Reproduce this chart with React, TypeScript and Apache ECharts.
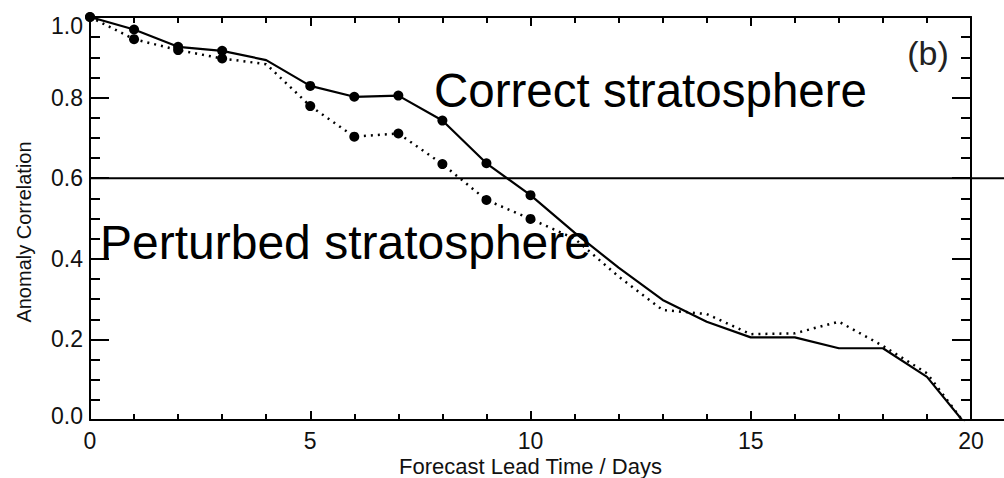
import React, { useEffect, useRef } from "react";
import * as echarts from "echarts";

const days = [0, 1, 2, 3, 4, 5, 6, 7, 8, 9, 10, 11, 12, 13, 14, 15, 16, 17, 18, 19, 20];
const correct = [1.0, 0.969, 0.926, 0.916, 0.893, 0.829, 0.802, 0.805, 0.743, 0.637, 0.558, 0.465, 0.378, 0.298, 0.244, 0.205, 0.205, 0.178, 0.178, 0.107, -0.027];
const perturbed = [1.0, 0.945, 0.918, 0.897, 0.883, 0.779, 0.703, 0.711, 0.635, 0.546, 0.499, 0.45, 0.356, 0.273, 0.263, 0.213, 0.215, 0.244, 0.184, 0.116, -0.029];
const markedDays = [0, 1, 2, 3, 5, 6, 7, 8, 9, 10];
const xTicks = [0, 5, 10, 15, 20];
const yTicks = [0.0, 0.2, 0.4, 0.6, 0.8, 1.0];
const refLine = 0.6;
const xTitle = "Forecast Lead Time / Days";
const yTitle = "Anomaly Correlation";

const FONT = "Liberation Sans";
const INK = "#000";
const L = 90;
const T = 17;
const W_PLOT = 881;
const H_PLOT = 403;

export default function App() {
  const ref = useRef<HTMLDivElement>(null);
  useEffect(() => {
    if (!ref.current) return;
    const chart = echarts.init(ref.current, undefined, { renderer: "svg" });
    const toData = (vals: number[]) =>
      days.map((d, i) => ({
        value: [d, vals[i]],
        symbol: markedDays.includes(d) ? "circle" : "none",
      }));
    const xRange = { type: "value", min: xTicks[0], max: xTicks[xTicks.length - 1], interval: 5, splitLine: { show: false } };
    const yRange = { type: "value", min: yTicks[0], max: yTicks[yTicks.length - 1], interval: 0.2, splitLine: { show: false } };
    const lineOn = { show: true, onZero: false, lineStyle: { color: INK, width: 2 } };
    const noLine = { show: false, onZero: false };
    const xTickStyle = {
      axisTick: { show: true, inside: false, length: 9, lineStyle: { color: INK, width: 2 } },
      minorTick: { show: true, splitNumber: 5, length: 6, lineStyle: { color: INK, width: 2 } },
    };
    const yTickStyle = {
      axisTick: { show: true, inside: false, length: 19, lineStyle: { color: INK, width: 2 } },
      minorTick: { show: true, splitNumber: 4, length: 10, lineStyle: { color: INK, width: 2 } },
    };
    const hidden = { type: "value", min: 0, max: 1, show: false, axisLine: noLine };
    const gridBase = { containLabel: false, outerBoundsMode: "none" };
    chart.setOption({
      animation: false,
      backgroundColor: "#fff",
      grid: [
        { ...gridBase, left: L, top: T, width: W_PLOT, height: H_PLOT },
        { ...gridBase, left: L, top: T + H_PLOT, width: W_PLOT, height: 10 },
        { ...gridBase, left: L, top: T - 10, width: W_PLOT, height: 10 },
        { ...gridBase, left: L - 10, top: T, width: 10, height: H_PLOT },
        { ...gridBase, left: L + W_PLOT, top: T, width: 10, height: H_PLOT },
      ],
      xAxis: [
        {
          ...xRange,
          gridIndex: 0,
          position: "bottom",
          axisLine: lineOn,
          axisTick: { show: false },
          axisLabel: { show: true, margin: 9, fontFamily: FONT, fontSize: 23, lineHeight: 23, color: "#111" },
        },
        { ...xRange, gridIndex: 0, position: "top", axisLine: lineOn, axisTick: { show: false }, axisLabel: { show: false } },
        { ...xRange, gridIndex: 1, position: "top", axisLine: noLine, ...xTickStyle, axisLabel: { show: false } },
        { ...xRange, gridIndex: 2, position: "bottom", axisLine: noLine, ...xTickStyle, axisLabel: { show: false } },
        { ...hidden, gridIndex: 3 },
        { ...hidden, gridIndex: 4 },
      ],
      yAxis: [
        {
          ...yRange,
          gridIndex: 0,
          position: "left",
          axisLine: lineOn,
          axisTick: { show: false },
          axisLabel: {
            show: true,
            margin: 7,
            fontFamily: FONT,
            fontSize: 23,
            color: "#111",
            formatter: (v: number) =>
              v === yTicks[0] ? `{lo|${v.toFixed(1)}}` : v === yTicks[yTicks.length - 1] ? `{hi|${v.toFixed(1)}}` : v.toFixed(1),
            rich: {
              lo: { fontFamily: FONT, fontSize: 23, color: "#111", padding: [0, 0, 8, 0] },
              hi: { fontFamily: FONT, fontSize: 23, color: "#111", padding: [18, 0, 0, 0] },
            },
          },
        },
        { ...yRange, gridIndex: 0, position: "right", axisLine: lineOn, axisTick: { show: false }, axisLabel: { show: false } },
        { ...hidden, gridIndex: 1 },
        { ...hidden, gridIndex: 2 },
        { ...yRange, gridIndex: 3, position: "right", axisLine: noLine, ...yTickStyle, axisLabel: { show: false } },
        { ...yRange, gridIndex: 4, position: "left", axisLine: noLine, ...yTickStyle, axisLabel: { show: false } },
      ],
      series: [
        {
          name: "Correct stratosphere",
          type: "line",
          xAxisIndex: 0,
          yAxisIndex: 0,
          data: toData(correct),
          symbolSize: 10,
          showSymbol: true,
          clip: true,
          itemStyle: { color: INK },
          lineStyle: { color: INK, width: 2.2, type: "solid" },
          z: 3,
        },
        {
          name: "Perturbed stratosphere",
          type: "line",
          xAxisIndex: 0,
          yAxisIndex: 0,
          data: toData(perturbed),
          symbolSize: 10,
          showSymbol: true,
          clip: true,
          itemStyle: { color: INK },
          lineStyle: { color: INK, width: 2.5, type: [2, 5] },
          z: 2,
        },
      ],
    });
    const p06 = chart.convertToPixel({ gridIndex: 0 }, [xTicks[0], refLine]) as number[];
    const pEnd = chart.convertToPixel({ gridIndex: 0 }, [xTicks[xTicks.length - 1], yTicks[0]]) as number[];
    const W = chart.getWidth();
    chart.setOption({
      graphic: [
        {
          type: "line",
          shape: { x1: p06[0], y1: p06[1], x2: W, y2: p06[1] },
          style: { stroke: INK, lineWidth: 2 },
          z: 10,
        },
        {
          type: "line",
          shape: { x1: pEnd[0], y1: pEnd[1], x2: W, y2: pEnd[1] },
          style: { stroke: INK, lineWidth: 2 },
          z: 10,
        },
        {
          type: "text",
          x: (p06[0] + pEnd[0]) / 2,
          y: 466,
          style: {
            text: xTitle,
            font: `22px ${FONT}`,
            lineHeight: 22,
            fill: "#111",
            textAlign: "center",
            verticalAlign: "middle",
          },
          z: 20,
        },
        {
          type: "text",
          x: 434,
          y: 90,
          style: {
            text: "Correct stratosphere",
            font: `47.5px ${FONT}`,
            fill: INK,
            textAlign: "left",
            verticalAlign: "middle",
          },
          z: 20,
        },
        {
          type: "text",
          x: 100,
          y: 242,
          style: {
            text: "Perturbed stratosphere",
            font: `48px ${FONT}`,
            fill: INK,
            textAlign: "left",
            verticalAlign: "middle",
          },
          z: 20,
        },
        {
          type: "text",
          x: 928,
          y: 53,
          style: {
            text: "(b)",
            font: `34px ${FONT}`,
            fill: "#222",
            textAlign: "center",
            verticalAlign: "middle",
          },
          z: 20,
        },
        {
          type: "text",
          x: 24,
          y: 232,
          rotation: Math.PI / 2,
          style: {
            text: yTitle,
            font: `20px ${FONT}`,
            fill: "#111",
            textAlign: "center",
            verticalAlign: "middle",
          },
          z: 20,
        },
      ],
    });
    return () => chart.dispose();
  }, []);
  return (
    <div
      ref={ref}
      style={{ position: "fixed", left: 0, top: 0, width: 1004, height: 478, background: "#fff" }}
    />
  );
}
